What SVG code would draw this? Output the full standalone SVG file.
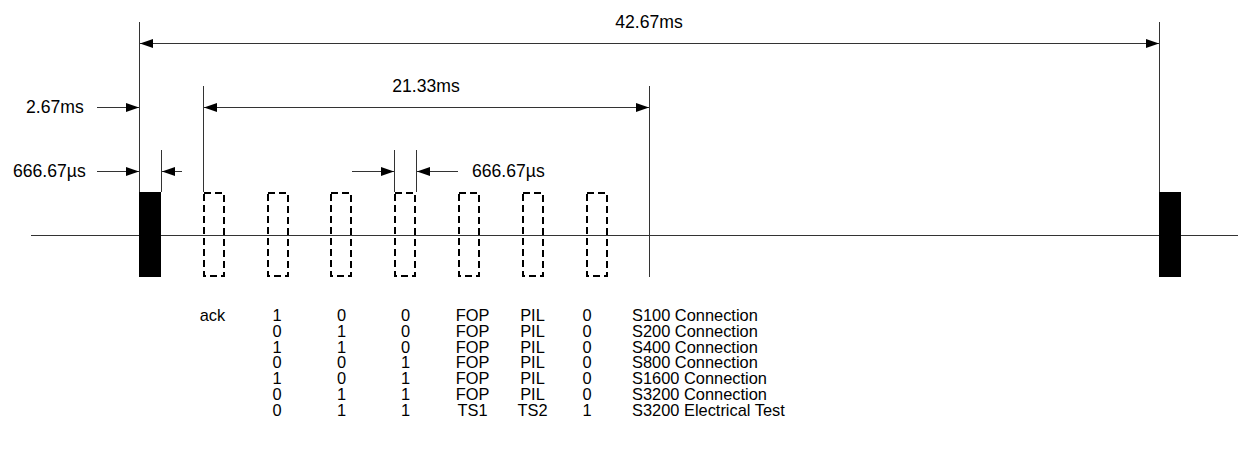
<svg xmlns="http://www.w3.org/2000/svg" width="1238" height="451" viewBox="0 0 1238 451">
<style>
.ln{stroke:#333;stroke-width:1;fill:none}
.dim{stroke:#333;stroke-width:1;fill:none;marker-end:url(#ah)}
.dim2{stroke:#333;stroke-width:1;fill:none;marker-end:url(#ah);marker-start:url(#ah)}
.slot{fill:none;stroke:#000;stroke-width:2;stroke-dasharray:7,4}
.blk{fill:#000}
text{font-family:"Liberation Sans",Arial,sans-serif;font-size:16.4px;fill:#000}
.lb{font-size:17.6px}
.m{text-anchor:middle}
</style>
<defs>
<marker id="ah" markerUnits="userSpaceOnUse" markerWidth="13" markerHeight="9" refX="13" refY="4.5" orient="auto-start-reverse">
<path d="M0,0 L13,4.5 L0,9 z" fill="#000"/>
</marker>
</defs>
<g id="baseline"><line class="ln" x1="31" y1="235.5" x2="1238" y2="235.5"/></g>
<g id="guides">
<line class="ln" x1="139.5" y1="22" x2="139.5" y2="192"/>
<line class="ln" x1="161.5" y1="150" x2="161.5" y2="192"/>
<line class="ln" x1="203.5" y1="86" x2="203.5" y2="192"/>
<line class="ln" x1="394.5" y1="150" x2="394.5" y2="192"/>
<line class="ln" x1="416.5" y1="150" x2="416.5" y2="192"/>
<line class="ln" x1="649.5" y1="86" x2="649.5" y2="277"/>
<line class="ln" x1="1159.5" y1="22" x2="1159.5" y2="192"/>
</g>
<g id="pulse-start"><rect class="blk" x="139" y="192" width="22" height="85"/></g>
<g id="pulse-end"><rect class="blk" x="1159" y="192" width="22" height="85"/></g>
<g id="slots">
<rect class="slot" x="204" y="193" width="20" height="83"/>
<rect class="slot" x="268" y="193" width="20" height="83"/>
<rect class="slot" x="331" y="193" width="20" height="83"/>
<rect class="slot" x="395" y="193" width="20" height="83"/>
<rect class="slot" x="459" y="193" width="20" height="83"/>
<rect class="slot" x="523" y="193" width="20" height="83"/>
<rect class="slot" x="587" y="193" width="20" height="83"/>
</g>
<g id="connectors">
<line class="dim2" x1="140" y1="43.5" x2="1159" y2="43.5"/>
<line class="dim2" x1="204" y1="107.5" x2="649" y2="107.5"/>
<line class="dim" x1="97" y1="107.5" x2="139" y2="107.5"/>
<line class="dim" x1="97" y1="171.5" x2="139" y2="171.5"/>
<line class="dim" x1="182" y1="171.5" x2="162" y2="171.5"/>
<line class="dim" x1="352" y1="171.5" x2="394" y2="171.5"/>
<line class="dim" x1="458" y1="171.5" x2="417" y2="171.5"/>
</g>
<g id="labels">
<text class="lb m" x="649" y="28">42.67ms</text>
<text class="lb m" x="426" y="92">21.33ms</text>
<text class="lb" x="26" y="113">2.67ms</text>
<text class="lb" x="13" y="177">666.67µs</text>
<text class="lb" x="472" y="177">666.67µs</text>
</g>
<g id="table">
<text class="m" x="212.5" y="321">ack</text>
<text class="m" x="277" y="321">1</text><text class="m" x="341.5" y="321">0</text><text class="m" x="405.5" y="321">0</text><text class="m" x="472.5" y="321">FOP</text><text class="m" x="532.5" y="321">PIL</text><text class="m" x="587" y="321">0</text><text x="632" y="321">S100 Connection</text>
<text class="m" x="277" y="337">0</text><text class="m" x="341.5" y="337">1</text><text class="m" x="405.5" y="337">0</text><text class="m" x="472.5" y="337">FOP</text><text class="m" x="532.5" y="337">PIL</text><text class="m" x="587" y="337">0</text><text x="632" y="337">S200 Connection</text>
<text class="m" x="277" y="352.5">1</text><text class="m" x="341.5" y="352.5">1</text><text class="m" x="405.5" y="352.5">0</text><text class="m" x="472.5" y="352.5">FOP</text><text class="m" x="532.5" y="352.5">PIL</text><text class="m" x="587" y="352.5">0</text><text x="632" y="352.5">S400 Connection</text>
<text class="m" x="277" y="368">0</text><text class="m" x="341.5" y="368">0</text><text class="m" x="405.5" y="368">1</text><text class="m" x="472.5" y="368">FOP</text><text class="m" x="532.5" y="368">PIL</text><text class="m" x="587" y="368">0</text><text x="632" y="368">S800 Connection</text>
<text class="m" x="277" y="384">1</text><text class="m" x="341.5" y="384">0</text><text class="m" x="405.5" y="384">1</text><text class="m" x="472.5" y="384">FOP</text><text class="m" x="532.5" y="384">PIL</text><text class="m" x="587" y="384">0</text><text x="632" y="384">S1600 Connection</text>
<text class="m" x="277" y="400">0</text><text class="m" x="341.5" y="400">1</text><text class="m" x="405.5" y="400">1</text><text class="m" x="472.5" y="400">FOP</text><text class="m" x="532.5" y="400">PIL</text><text class="m" x="587" y="400">0</text><text x="632" y="400">S3200 Connection</text>
<text class="m" x="277" y="415.5">0</text><text class="m" x="341.5" y="415.5">1</text><text class="m" x="405.5" y="415.5">1</text><text class="m" x="472.5" y="415.5">TS1</text><text class="m" x="532.5" y="415.5">TS2</text><text class="m" x="587" y="415.5">1</text><text x="632" y="415.5">S3200 Electrical Test</text>
</g>
</svg>
